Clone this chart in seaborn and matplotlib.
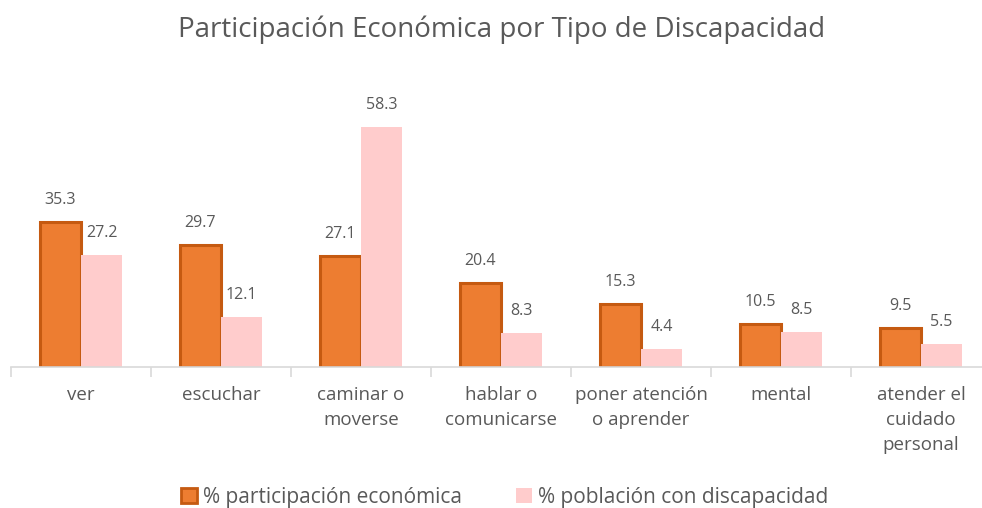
import pandas as pd
import numpy as np
import seaborn as sns
import matplotlib.pyplot as plt
from matplotlib.patches import Patch

# Data
categorias = ["ver", "escuchar", "caminar o\nmoverse", "hablar o\ncomunicarse",
              "poner atención\no aprender", "mental", "atender el\ncuidado\npersonal"]
participacion = [35.3, 29.7, 27.1, 20.4, 15.3, 10.5, 9.5]
poblacion = [27.2, 12.1, 58.3, 8.3, 4.4, 8.5, 5.5]
series = ["% participación económica", "% población con discapacidad"]

naranja = "#ED7D31"
borde = "#C55A11"
rosa = "#FFCCCC"
gris = "#595959"

df = pd.DataFrame({
    "categoria": categorias * 2,
    "valor": participacion + poblacion,
    "serie": [series[0]] * len(categorias) + [series[1]] * len(categorias),
})

sns.set_theme(style="white")
plt.rcParams["font.family"] = ["Open Sans", "DejaVu Sans"]

fig = plt.figure(figsize=(9.82, 5.08), dpi=100)
ax = fig.add_axes([11 / 982, 1 - 367 / 508, 971 / 982, (367 - 79) / 508])

sns.barplot(data=df, x="categoria", y="valor", hue="serie", order=categorias,
            hue_order=series, palette=[naranja, rosa], width=0.59,
            saturation=1, legend=False, ax=ax)

# Orange bars get a darker edge
for bar in ax.containers[0]:
    bar.set_edgecolor(borde)
    bar.set_linewidth(2.2)
for bar in ax.containers[1]:
    bar.set_edgecolor("none")

for cont in ax.containers:
    ax.bar_label(cont, fmt="%.1f", padding=10, fontsize=11.5, color=gris)

ax.set_xlabel("")
ax.set_ylabel("")
ax.set_yticks([])

for s in ["top", "right", "left"]:
    ax.spines[s].set_visible(False)
ax.spines["bottom"].set_color("#D9D9D9")
ax.spines["bottom"].set_linewidth(1.2)

ax.set_xticks(range(len(categorias)))
ax.set_xticklabels(categorias, fontsize=13.5, color=gris, linespacing=1.5,
                   va="top")
ax.set_xticks(np.arange(-0.5, len(categorias), 1), minor=True)
ax.tick_params(axis="x", which="major", length=0, pad=14)
ax.tick_params(axis="x", which="minor", length=7, width=1.2, color="#D9D9D9",
               bottom=True)

# limits after ticks, so the tick positions do not widen the view
ax.set_ylim(0, 70)
ax.set_xlim(-0.5, -0.5 + 971 / 140)

fig.text(502 / 982, 1 - 30 / 508, "Participación Económica por Tipo de Discapacidad",
         ha="center", va="center", fontsize=20, color=gris)

handles = [Patch(facecolor=naranja, edgecolor=borde, linewidth=2),
           Patch(facecolor=rosa, edgecolor="none")]
fig.legend(handles, series, loc="center", bbox_to_anchor=(0.514, 1 - 497 / 508),
           ncol=2, frameon=False, fontsize=15, labelcolor=gris,
           handlelength=0.75, handleheight=0.75, handletextpad=0.3,
           columnspacing=2.6)

fig.savefig("out.png", dpi=100)
